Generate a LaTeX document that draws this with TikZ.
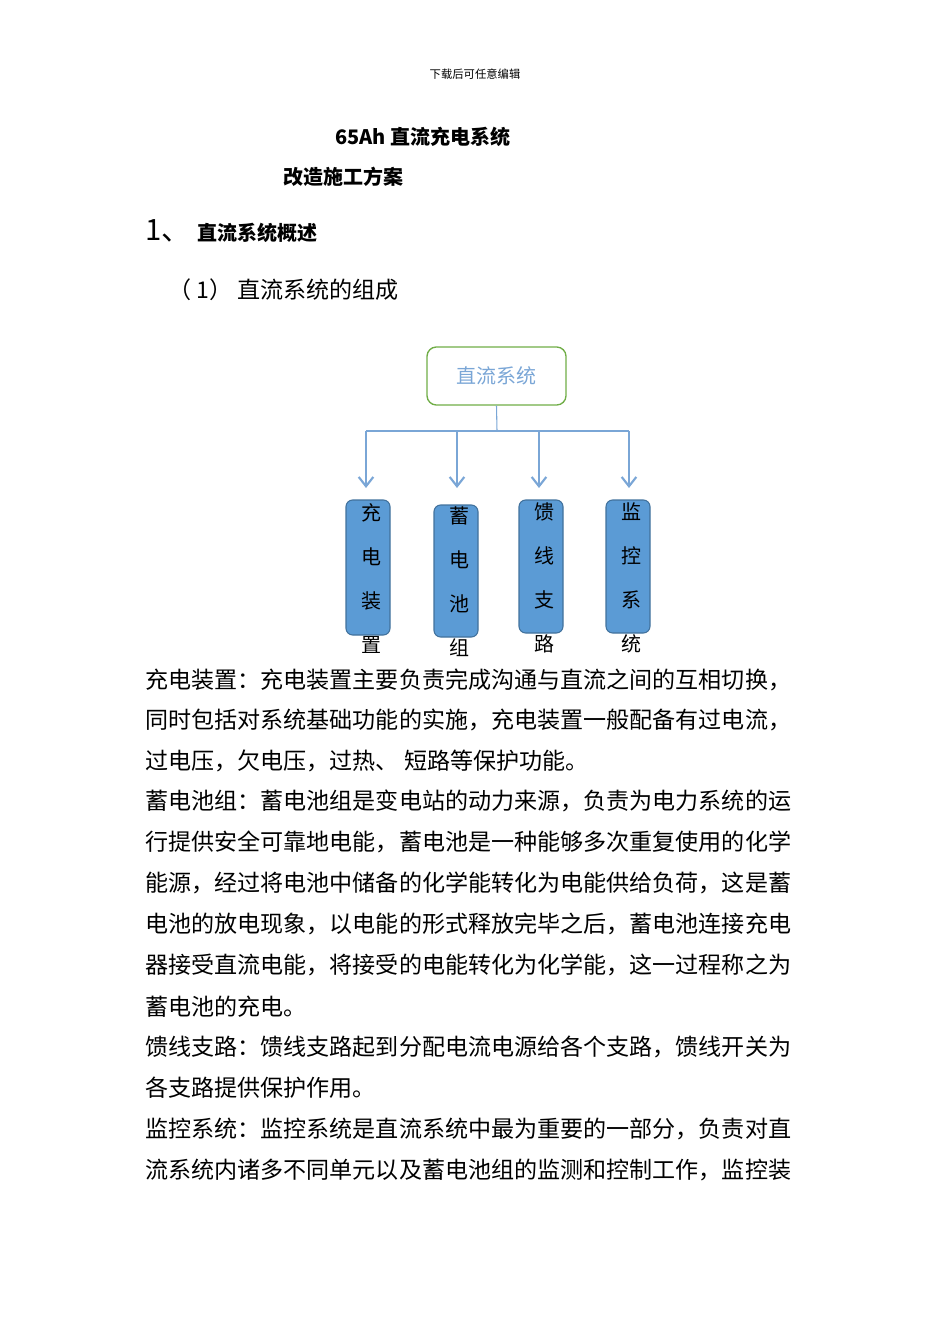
\documentclass[tikz,border=0pt]{standalone}
\usepackage{fontspec}
\setmainfont{Noto Sans CJK SC}
\usetikzlibrary{arrows.meta}
\definecolor{boxfill}{HTML}{5B9BD5}
\definecolor{boxline}{HTML}{41719C}
\definecolor{lineblue}{HTML}{7AA6D6}
\definecolor{topgreen}{HTML}{70AD47}
\begin{document}
\begin{tikzpicture}[x=0.75pt,y=-0.75pt,
  body/.style={anchor=west,inner sep=0,font=\fontsize{17.3}{20}\selectfont},
  col/.style={draw=boxline,fill=boxfill,rounded corners=5pt,line width=0.8pt},
  ch/.style={inner sep=0,font=\fontsize{15}{18}\selectfont},
  conn/.style={draw=lineblue,line width=0.8pt},
  arr/.style={conn,-{Straight Barb[length=7pt,width=11pt,line width=1.6pt]}}]
\useasboundingbox (0,0) rectangle (950,1344);
\node[inner sep=0,font=\fontsize{8.5}{10}\selectfont] (hdr) at (475,74) {下载后可任意编辑};
\node[inner sep=0,font=\fontsize{15}{18}\selectfont\bfseries] (t1) at (423,137) {65Ah 直流充电系统};
\node[inner sep=0,font=\fontsize{15}{18}\selectfont\bfseries,anchor=west] (t2) at (283,177) {改造施工方案};
\node[inner sep=0,font=\fontsize{22}{24}\selectfont,anchor=west] (s1n) at (145,231) {1、};
\node[inner sep=0,font=\fontsize{15}{18}\selectfont\bfseries,anchor=west] (s1) at (197,233) {直流系统概述};
\node[body] (s2) at (168,290) {（ 1） 直流系统的组成};
% diagram
\node[draw=topgreen,line width=1pt,rounded corners=7pt,minimum width=139*0.75pt,minimum height=58*0.75pt,inner sep=0,
  text=lineblue,font=\fontsize{15}{18}\selectfont] (top) at (496.5,376) {\raisebox{-6pt}{直流系统}};
\coordinate (j) at (497,431);
\coordinate (h1) at (366,431);
\coordinate (h4) at (629,431);
\draw[conn] (top.south) -- (j);
\draw[conn] (h1) -- (h4);
\foreach \x/\n in {366/a,457/b,539/c,629/d}{
  \coordinate (s\n) at (\x,431);
  \coordinate (e\n) at (\x,488);
  \draw[arr] (s\n) -- (e\n);
}
\draw[col] (346,500) rectangle (390,635);
\draw[col] (434,505) rectangle (478,637);
\draw[col] (519,500) rectangle (563,633);
\draw[col] (606,500) rectangle (650,633);
\foreach \x/\y/\a/\b/\c/\d in {371/513/充/电/装/置,459/516/蓄/电/池/组,544/512/馈/线/支/路,631/512/监/控/系/统}{
  \node[ch] at (\x,\y) {\a};
  \node[ch] at (\x,\y+44) {\b};
  \node[ch] at (\x,\y+88) {\c};
  \node[ch] at (\x,\y+132) {\d};
}
% body text
\node[body] (l1) at (145,680) {充电装置：充电装置主要负责完成沟通与直流之间的互相切换，};
\node[body] (l2) at (145,720) {同时包括对系统基础功能的实施，充电装置一般配备有过电流，};
\node[body] (l3) at (145,761) {过电压，欠电压，过热、 短路等保护功能。};
\node[body] (l4) at (145,801) {蓄电池组：蓄电池组是变电站的动力来源，负责为电力系统的运};
\node[body] (l5) at (145,842) {行提供安全可靠地电能，蓄电池是一种能够多次重复使用的化学};
\node[body] (l6) at (145,883) {能源，经过将电池中储备的化学能转化为电能供给负荷，这是蓄};
\node[body] (l7) at (145,924) {电池的放电现象，以电能的形式释放完毕之后，蓄电池连接充电};
\node[body] (l8) at (145,965) {器接受直流电能，将接受的电能转化为化学能，这一过程称之为};
\node[body] (l9) at (145,1007) {蓄电池的充电。};
\node[body] (l10) at (145,1047) {馈线支路：馈线支路起到分配电流电源给各个支路，馈线开关为};
\node[body] (l11) at (145,1088) {各支路提供保护作用。};
\node[body] (l12) at (145,1129) {监控系统：监控系统是直流系统中最为重要的一部分，负责对直};
\node[body] (l13) at (145,1170) {流系统内诸多不同单元以及蓄电池组的监测和控制工作，监控装};
\end{tikzpicture}
\end{document}
